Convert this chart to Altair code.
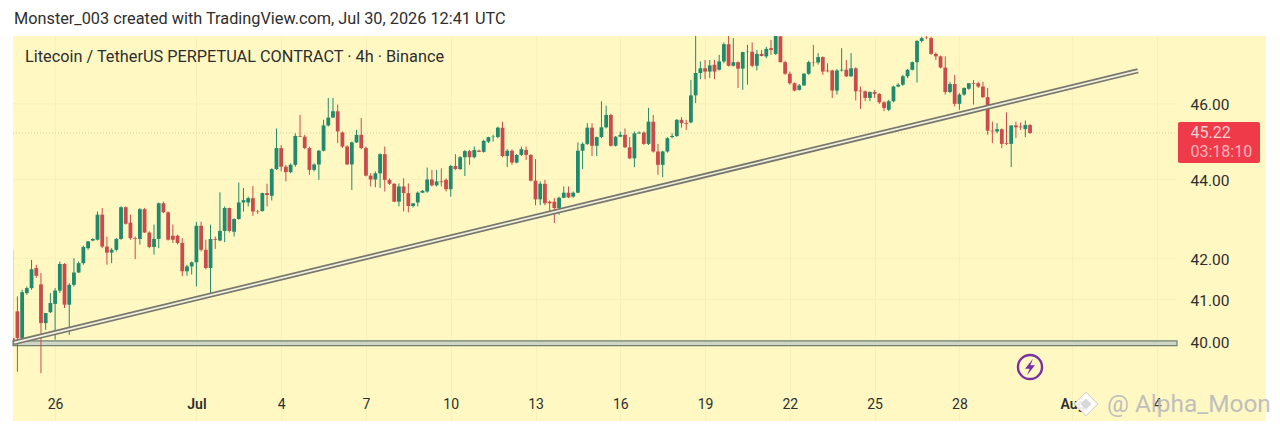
import json
import altair as alt
import pandas as pd

opens = [40.09,40.72,40.09,41.16,41.28,41.77,41.37,40.44,40.70,40.90,
41.22,41.87,40.88,41.36,41.66,41.89,42.26,42.45,42.47,43.10,
42.30,42.15,42.22,42.49,43.29,42.90,42.51,42.49,43.24,42.65,
42.29,42.49,43.39,43.16,42.57,42.57,42.39,41.69,41.81,41.91,
42.82,42.22,41.77,42.49,42.45,42.69,43.27,42.67,42.99,43.41,
43.41,43.52,43.19,43.19,43.65,43.58,44.27,44.82,44.33,44.19,
44.38,45.14,45.12,44.82,44.25,44.39,44.75,45.42,45.63,45.80,
45.23,44.86,44.39,44.97,45.17,44.82,44.10,44.00,44.16,44.66,
43.99,43.89,43.43,43.82,43.65,43.32,43.41,43.66,43.69,44.00,
43.85,43.95,43.99,43.75,44.35,44.27,44.58,44.74,44.58,44.75,
44.72,44.99,45.11,45.11,45.36,44.61,44.75,44.44,44.64,44.77,
44.64,43.97,43.49,43.89,43.43,43.43,43.27,43.53,43.66,43.56,
43.66,44.75,44.93,45.36,44.88,45.11,45.37,45.70,44.88,45.12,
45.17,44.84,44.55,45.21,45.23,44.93,45.52,44.73,44.38,44.73,
45.11,45.14,45.57,45.48,45.50,46.23,46.84,46.97,46.88,47.07,
46.93,47.16,47.64,47.04,47.14,46.96,47.42,47.43,47.04,47.37,
47.30,47.53,47.37,47.86,47.14,46.82,46.56,46.38,46.50,46.82,
47.14,47.13,47.28,46.91,46.91,46.36,46.91,46.93,46.75,46.97,
46.36,46.34,46.16,46.32,46.27,46.04,45.84,46.07,46.47,46.52,
46.75,46.93,47.14,47.73,47.83,47.81,47.37,47.30,46.99,46.32,
46.54,46.00,46.25,46.41,46.56,46.56,46.47,46.18,45.28,45.26,
45.32,44.95,44.93,45.42,45.39,45.32,45.43]

highs = [42.22,41.08,41.24,41.32,41.97,41.85,41.65,40.68,41.16,41.28,
41.93,41.89,41.40,42.01,41.93,42.32,42.43,42.51,43.18,43.27,
42.55,42.26,42.51,43.31,43.31,43.10,42.55,43.27,43.27,42.68,
42.85,43.41,43.43,43.18,42.85,42.60,42.51,41.85,41.93,42.92,
42.92,42.47,42.85,42.55,43.67,43.31,43.28,43.01,43.92,43.78,
43.56,43.83,43.22,43.66,43.89,44.29,45.34,44.90,44.38,44.42,
45.21,45.70,45.17,44.86,44.42,44.77,45.57,46.16,46.16,45.98,
45.26,44.90,44.99,45.30,45.62,44.86,44.16,44.21,44.68,44.86,
44.03,43.90,43.90,44.03,43.90,43.39,43.69,43.73,44.31,44.25,
44.25,44.29,44.03,44.38,44.66,44.61,44.77,44.77,44.86,44.78,
45.04,45.12,45.17,45.39,45.52,44.79,44.79,44.66,44.86,44.86,
44.66,44.53,43.95,43.99,43.46,43.52,43.56,43.82,43.82,43.69,
44.97,44.97,45.48,45.48,45.12,46.07,45.95,45.73,45.14,45.26,
45.34,45.11,45.26,45.26,45.26,45.89,45.70,44.93,44.75,45.11,
45.21,45.59,45.64,45.57,46.65,47.90,47.16,47.20,47.20,47.20,
47.34,47.69,47.90,47.81,47.16,47.43,47.62,47.69,47.48,47.48,
47.57,47.76,47.93,47.93,47.18,46.88,46.58,46.54,46.84,47.18,
47.62,47.39,47.30,47.11,46.93,46.95,47.53,47.20,47.39,47.00,
46.47,46.36,46.34,46.38,46.29,46.07,46.11,46.49,46.56,46.79,
46.95,47.16,47.76,47.85,47.87,47.85,47.41,47.32,47.30,46.60,
46.79,46.29,46.45,46.56,46.65,46.60,46.60,46.43,45.52,45.48,
45.34,45.77,45.42,45.52,45.50,45.55,45.46]

lows = [39.93,39.30,40.05,41.12,41.24,41.53,39.27,40.28,40.68,40.05,
41.16,40.80,40.16,41.32,41.65,41.85,42.22,42.43,42.45,42.26,
41.85,41.89,42.18,42.47,42.85,42.47,41.99,42.35,42.64,42.26,
42.10,42.26,43.14,42.45,42.39,42.35,41.57,41.58,41.61,41.32,
42.18,41.74,41.16,42.24,42.43,42.41,42.65,42.55,42.97,43.18,
43.31,43.07,43.12,43.18,43.31,43.46,44.25,44.21,43.95,44.16,
44.33,45.11,44.79,44.12,44.21,43.99,44.73,45.39,45.62,44.95,
44.82,44.38,43.73,44.95,44.79,44.08,43.82,43.80,43.78,43.69,
43.86,43.42,43.31,43.18,43.16,43.28,43.31,43.65,43.66,43.82,
43.82,43.82,43.69,43.56,44.25,44.25,44.09,44.38,44.55,44.72,
44.70,44.95,44.99,45.08,44.58,44.32,44.38,44.42,44.61,44.51,
43.95,43.34,43.34,43.34,43.18,42.89,43.10,43.52,43.52,43.53,
43.65,44.27,44.90,44.61,44.61,45.08,45.34,44.86,44.86,45.11,
44.82,44.53,44.32,45.19,44.90,44.90,44.70,44.12,44.06,44.70,
45.08,45.11,45.36,45.30,45.48,46.02,46.67,46.67,46.70,46.67,
46.91,47.11,47.02,47.02,46.43,46.38,46.52,47.00,46.91,47.30,
47.25,47.34,47.34,47.13,46.79,46.52,46.34,46.36,46.49,46.79,
47.02,47.07,46.79,46.86,46.16,46.25,46.88,46.73,46.73,46.09,
45.86,46.07,46.07,46.16,46.00,45.80,45.80,46.04,46.45,46.49,
46.70,46.91,46.58,47.69,47.78,47.34,47.20,46.97,46.25,46.29,
45.93,45.84,46.22,46.38,45.98,46.43,46.16,45.17,44.95,45.21,
44.82,44.90,44.32,45.08,45.30,45.11,45.19]

closes = [39.93,40.09,41.18,41.28,41.74,41.58,40.44,40.68,40.92,41.22,
41.87,40.88,41.36,41.66,41.89,42.29,42.43,42.49,43.10,42.30,
42.15,42.22,42.49,43.29,42.87,42.51,42.49,43.24,42.65,42.29,
42.49,43.39,43.16,42.47,42.47,42.39,41.69,41.81,41.91,42.82,
42.22,41.77,42.49,42.47,42.69,43.27,42.69,42.99,43.41,43.47,
43.52,43.18,43.18,43.65,43.60,44.27,44.82,44.33,44.19,44.38,
45.14,45.12,44.82,44.25,44.39,44.75,45.42,45.63,45.80,45.26,
44.86,44.39,44.97,45.17,44.82,44.10,44.00,44.16,44.66,43.99,
43.89,43.43,43.82,43.65,43.32,43.39,43.66,43.71,44.00,43.85,
43.95,43.93,43.75,44.35,44.27,44.58,44.74,44.58,44.77,44.72,
45.01,45.11,45.12,45.36,44.61,44.75,44.44,44.64,44.79,44.64,
43.97,43.49,43.89,43.39,43.39,43.27,43.53,43.66,43.54,43.66,
44.75,44.93,45.36,44.88,45.11,45.37,45.70,44.88,45.12,45.17,
44.84,44.55,45.21,45.23,44.93,45.52,44.73,44.38,44.73,45.08,
45.14,45.57,45.48,45.46,46.23,46.84,46.97,46.88,47.05,46.88,
47.16,47.64,47.04,47.14,46.96,47.42,47.43,47.04,47.37,47.31,
47.51,47.48,47.88,47.14,46.82,46.56,46.36,46.50,46.82,47.14,
47.13,47.28,46.88,46.89,46.36,46.91,46.93,46.75,46.97,46.34,
46.34,46.16,46.32,46.27,46.04,45.89,46.07,46.47,46.52,46.75,
46.93,47.14,47.73,47.81,47.82,47.37,47.30,46.99,46.32,46.54,
46.00,46.25,46.43,46.56,46.54,46.47,46.18,45.28,45.26,45.32,
44.93,44.93,45.42,45.37,45.37,45.43,45.22]

tick_bars = [9, 39, 57, 75, 93, 111, 129, 147, 165, 183, 201, 225, 243]
tick_labels = ["26", "Jul", "4", "7", "10", "13", "16", "19", "22", "25", "28", "Aug", "4"]
price_ticks = [40, 41, 42, 44, 46]
grid_prices = [40, 41, 42, 44, 46]

header = "Monster_003 created with TradingView.com, Jul 30, 2026 12:41 UTC"
symbol = "Litecoin / TetherUS PERPETUAL CONTRACT · 4h · Binance"
last_price = "45.22"
countdown = "03:18:10"
watermark = "@ Alpha_Moon"

trend_bars = [0.28, 238.9]
trend_prices = [39.98, 46.90]
band_bars = [0.06, 247.2]
band_prices = [39.91, 40.02]
last_close = 45.22

FONT = "Roboto"
BG = "#FFF8C3"
GRID = "#F7EFBC"
UP = "#1F8A6C"
DOWN = "#C94B4B"
INK = "#2E2E2E"

candles = pd.DataFrame({"bar": range(len(opens)), "open": opens, "high": highs,
                        "low": lows, "close": closes})
candles["dir"] = ["up" if c >= o else "down" for o, c in zip(opens, closes)]

xscale = alt.Scale(domain=[0.06, 266.1], nice=False, zero=False)
yscale = alt.Scale(type="log", domain=[38.18, 47.87], nice=False, zero=False)
colorenc = alt.Color("dir:N", scale=alt.Scale(domain=["up", "down"], range=[UP, DOWN]), legend=None)

label_map = json.dumps({str(b): t for b, t in zip(tick_bars, tick_labels)})

x_axis = alt.Axis(
    values=tick_bars, title=None, ticks=False, domain=False, grid=True, gridColor=GRID,
    gridWidth=1, labelExpr=f"{label_map}[''+datum.value]", labelPadding=-24,
    labelFont=FONT, labelFontSize=14, labelColor=INK, labelOverlap=False, labelFlush=False,
    labelBound=False,
    labelFontWeight={"condition": {"test": "datum.value == 39 || datum.value == 225", "value": 600}, "value": 400})
y_axis = alt.Axis(
    orient="right", values=price_ticks, format=".2f", title=None, ticks=False, domain=False,
    grid=False, labelPadding=-76, labelFont=FONT, labelFontSize=15.5, labelColor=INK, labelOffset=1,
    labelOverlap=False, labelBound=False, labelFlush=False)

X = lambda f: alt.X(f, scale=xscale, axis=x_axis)
Y = lambda f: alt.Y(f, scale=yscale, axis=y_axis)

wicks = alt.Chart(candles).mark_rule(strokeWidth=1, clip=True).encode(
    x=X("bar:Q"), y=Y("low:Q"), y2="high:Q", color=colorenc)
bodies = alt.Chart(candles).mark_rule(strokeWidth=3.8, clip=True).encode(
    x=X("bar:Q"), y=Y("open:Q"), y2="close:Q", color=colorenc)

grid_df = pd.DataFrame({"p": grid_prices, "a": band_bars[0], "b": band_bars[1]})
hgrid = alt.Chart(grid_df).mark_rule(color=GRID, strokeWidth=1).encode(
    x=X("a:Q"), x2="b:Q", y=Y("p:Q"))

last_df = pd.DataFrame({"p": [last_close], "a": band_bars[0], "b": band_bars[1]})
last_line = alt.Chart(last_df).mark_rule(color="#DCC79A", strokeWidth=1, strokeDash=[1, 2]).encode(
    x=X("a:Q"), x2="b:Q", y=Y("p:Q"))

band_df = pd.DataFrame({"a": [band_bars[0]], "b": [band_bars[1]], "lo": [band_prices[0]], "hi": [band_prices[1]]})
band = alt.Chart(band_df).mark_rect(fill="#D0D6C4", stroke="#6F8272", strokeWidth=1.2).encode(
    x=X("a:Q"), x2="b:Q", y=Y("lo:Q"), y2="hi:Q")

trend_df = pd.DataFrame({"a": [trend_bars[0]], "b": [trend_bars[1]],
                         "p": [trend_prices[0]], "q": [trend_prices[1]]})
def trend(width, color):
    return alt.Chart(trend_df).mark_rule(color=color, strokeWidth=width, clip=True).encode(
        x=X("a:Q"), x2="b:Q", y=Y("p:Q"), y2="q:Q")
trend_outer = trend(5.2, "#78786F")
trend_inner = trend(1.7, "#F3F0DC")

def text_at(txt, x, y, size, color, **kw):
    return alt.Chart(pd.DataFrame({"t": [txt]})).mark_text(
        font=FONT, fontSize=size, color=color, align=kw.pop("align", "left"), baseline="middle", **kw
    ).encode(x=alt.value(x), y=alt.value(y), text="t:N")

tag = alt.Chart(pd.DataFrame({"t": [last_price]})).mark_rect(color="#EF3A4A", cornerRadius=2).encode(
    x=alt.value(1165), x2=alt.value(1247), y=alt.value(86), y2=alt.value(127))

icon = alt.Chart(pd.DataFrame({"t": ["bolt"]}))
ring = icon.mark_point(shape="circle", size=580, filled=False, stroke="#7B2FA6", strokeWidth=2.4,
                       opacity=1, fill="#FFF8C3").encode(x=alt.value(1017), y=alt.value(331))
bolt = icon.mark_point(
    shape="M0.18,-0.5L-0.3,0.1L-0.02,0.1L-0.18,0.5L0.3,-0.1L0.02,-0.1Z",
    size=1100, filled=True, color="#7B2FA6", opacity=1).encode(x=alt.value(1017), y=alt.value(331))

mark_outer = icon.mark_point(shape="diamond", size=560, filled=True, color="#FFFFFF", stroke="#C4C4C4",
                             strokeWidth=1, opacity=0.9).encode(x=alt.value(1073), y=alt.value(368))
mark_inner = icon.mark_point(shape="diamond", size=120, filled=True, color="#D8D8D8",
                             opacity=1).encode(x=alt.value(1073), y=alt.value(368))

chart = alt.layer(
    hgrid, band, last_line, wicks, bodies, trend_outer, trend_inner, tag,
    text_at(header, 1, -17, 16.3, INK),
    text_at(symbol, 12, 21, 16.3, INK),
    text_at(last_price, 1177.5, 97, 16, "#FFD0D4"),
    text_at(countdown, 1177.5, 116, 16, "#FFB4BC"),
    ring, bolt, mark_outer, mark_inner,
    text_at(watermark, 1094, 369, 24.4, "#BDBDBD", opacity=0.95),
).properties(
    width=1253, height=385,
    autosize=alt.AutoSizeParams(type="none"),
    padding={"left": 5, "top": 28, "right": 6, "bottom": 0},
    background="#FFFFFF",
).configure_view(fill=BG, stroke=None)

chart.save("out.html", embed_options={"renderer": "svg", "actions": False})
